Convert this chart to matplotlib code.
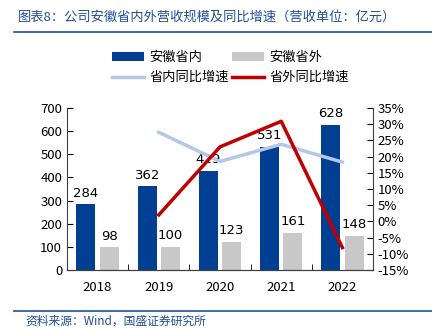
import numpy as np
import matplotlib.pyplot as plt

plt.rcParams['font.family'] = ['Noto Sans CJK SC', 'DejaVu Sans']

years = ['2018', '2019', '2020', '2021', '2022']
inside = [284, 362, 429, 531, 628]
outside = [98, 100, 123, 161, 148]
inside_yoy = [None, 27.5, 18.5, 23.8, 18.3]
outside_yoy = [None, 2.0, 23.0, 30.9, -8.1]

c_in = '#003F91'
c_out = '#C8C8C8'
c_in_l = '#B4C7E7'
c_out_l = '#C00000'

fig = plt.figure(figsize=(4.32, 3.29), dpi=100)
ax = fig.add_axes([67/432, 1-270/329, 306/432, 162/329])
ax2 = ax.twinx()

x = np.arange(len(years))
w = 0.31
off = 0.19
b1 = ax.bar(x - off, inside, w, color=c_in, label='安徽省内', zorder=2)
b2 = ax.bar(x + off, outside, w, color=c_out, label='安徽省外', zorder=2)
for xi, v in zip(x, inside):
    ax.text(xi - off, v + 20, str(v), ha='center', va='bottom', fontsize=9.5, family='DejaVu Sans')
for xi, v in zip(x, outside):
    ax.text(xi + off, v + 20, str(v), ha='center', va='bottom', fontsize=9.5, family='DejaVu Sans')

ax.set_ylim(0, 700)
ax.set_yticks(range(0, 701, 100))
ax.set_xlim(-0.5, 4.5)
ax.set_xticks(x)
ax.set_xticklabels(years)
ax.set_xticks(np.arange(0.5, 4.5, 1), minor=True)
ax.tick_params(axis='x', which='major', length=0, pad=8, labelsize=9.5)
ax.tick_params(axis='x', which='minor', direction='in', length=4)
ax.tick_params(axis='y', direction='in', length=4, labelsize=9.5)

lx = x[1:]
l1, = ax2.plot(lx, inside_yoy[1:], color=c_in_l, lw=2.5, label='省内同比增速', zorder=3)
l2, = ax2.plot(lx, outside_yoy[1:], color=c_out_l, lw=2.5, label='省外同比增速', zorder=4)
ax2.set_ylim(-15, 35)
ax2.set_yticks(range(-15, 36, 5))
ax2.set_yticklabels([f'{t}%' for t in range(-15, 36, 5)])
ax2.tick_params(axis='y', direction='in', length=4, labelsize=9.5)

for a in (ax, ax2):
    a.spines['top'].set_visible(False)
    a.spines['left'].set_color('#404040')
    a.spines['right'].set_color('#404040')
    a.spines['bottom'].set_color('#404040')
ax.spines['right'].set_visible(False)
ax2.spines['left'].set_visible(False)

fig.legend(handles=[b1, l1, b2, l2], ncol=2, loc='upper left',
           bbox_to_anchor=(112/432, 1 - 51/329), frameon=False, fontsize=9.5,
           borderpad=0, borderaxespad=0,
           handlelength=2.45, columnspacing=0.2, handletextpad=0.4, labelspacing=0.55)

fig.text(18/432, 1 - 17/329, '图表8：公司安徽省内外营收规模及同比增速（营收单位：亿元）',
         color='#1F4E99', fontsize=9.5, va='center', ha='left')
fig.add_artist(plt.Line2D([14/432, 1], [1 - 32/329] * 2, color='#1F4E99', lw=1.2))
fig.add_artist(plt.Line2D([14/432, 1], [1 - 311/329] * 2, color='#1F4E99', lw=1.2))
fig.text(25/432, 1 - 321/329, '资料来源：Wind，国盛证券研究所',
         color='#1F4E99', fontsize=8.5, va='center', ha='left')

fig.savefig('out.png', dpi=100)
